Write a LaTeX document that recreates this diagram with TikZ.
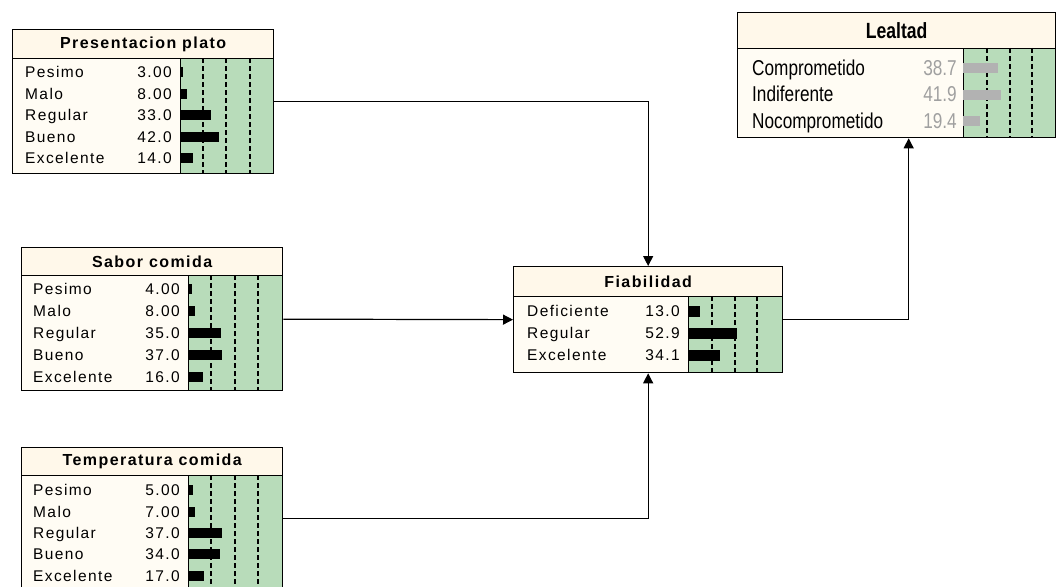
\documentclass[tikz,border=0pt]{standalone}
\usepackage{fontspec}
\setmainfont{Liberation Sans}
\newfontfamily\netfont[LetterSpace=9]{Liberation Sans}
\newfontfamily\narrowfont[FakeStretch=0.8]{Liberation Sans}
\usetikzlibrary{arrows.meta, positioning}

\definecolor{titlecream}{RGB}{255, 248, 234}
\definecolor{bodycream}{RGB}{255, 252, 244}
\definecolor{beliefgreen}{RGB}{184, 220, 186}
\definecolor{greybar}{RGB}{178, 178, 178}
\definecolor{greyval}{RGB}{160, 160, 160}

\tikzset{
  netbox/.style={draw, line width=1.3pt, fill=bodycream, inner sep=0pt, anchor=north west},
  titleband/.style={draw, line width=1.3pt, fill=titlecream, inner sep=0pt, anchor=north west,
    font=\netfont\bfseries\fontsize{16}{16}\selectfont},
  beliefarea/.style={draw, line width=1.3pt, fill=beliefgreen, inner sep=0pt, anchor=north west},
  statelabel/.style={anchor=west, inner sep=0pt, text height=11pt, text depth=0pt,
    font=\netfont\fontsize{15.5}{15.5}\selectfont},
  stateval/.style={anchor=east, inner sep=0pt, text height=11pt, text depth=0pt,
    font=\netfont\fontsize{15.5}{15.5}\selectfont},
  quarterline/.style={dash pattern=on 5pt off 3pt, line width=1.1pt},
  link/.style={line width=1.2pt, -{Triangle[length=10pt, width=10pt]}},
}

\begin{document}
\begin{tikzpicture}[x=1pt, y=-1pt]
  \useasboundingbox (0,0) rectangle (1056,586);

  % Presentacion plato
  \node[netbox, minimum width=261, minimum height=144] (pres) at (12,29) {};
  \node[titleband, minimum width=261, minimum height=29] (pres-title) at (pres.north west) {Presentacion plato};
  \node[beliefarea, minimum width=93, minimum height=115] (pres-belief) at (180,58) {};
  \foreach \dx in {23,46,70}
    \draw[quarterline] ([xshift=\dx]pres-belief.north west) -- ([xshift=\dx]pres-belief.south west);
  \foreach \lab/\val [count=\i] in {Pesimo/3.00, Malo/8.00, Regular/33.0, Bueno/42.0, Excelente/14.0} {
    \node[statelabel] (pres-s\i) at (25, 50.5+21.5*\i) {\lab};
    \node[stateval] (pres-v\i) at (172, 50.5+21.5*\i) {\val};
    \fill (180, 45.5+21.5*\i) rectangle ++(0.93*\val, 10);
  }

  % Sabor comida
  \node[netbox, minimum width=261, minimum height=143] (sabor) at (21,247) {};
  \node[titleband, minimum width=261, minimum height=28] (sabor-title) at (sabor.north west) {Sabor comida};
  \node[beliefarea, minimum width=94, minimum height=115] (sabor-belief) at (188,275) {};
  \foreach \dx in {23,47,70}
    \draw[quarterline] ([xshift=\dx]sabor-belief.north west) -- ([xshift=\dx]sabor-belief.south west);
  \foreach \lab/\val [count=\i] in {Pesimo/4.00, Malo/8.00, Regular/35.0, Bueno/37.0, Excelente/16.0} {
    \node[statelabel] (sabor-s\i) at (33, 267+22*\i) {\lab};
    \node[stateval] (sabor-v\i) at (180, 267+22*\i) {\val};
    \fill (188, 262+22*\i) rectangle ++(0.93*\val, 10);
  }

  % Temperatura comida
  \node[netbox, minimum width=261, minimum height=142] (temp) at (21,447) {};
  \node[titleband, minimum width=261, minimum height=28] (temp-title) at (temp.north west) {Temperatura comida};
  \node[beliefarea, minimum width=94, minimum height=114] (temp-belief) at (188,475) {};
  \foreach \dx in {23,47,70}
    \draw[quarterline] ([xshift=\dx]temp-belief.north west) -- ([xshift=\dx]temp-belief.south west);
  \foreach \lab/\val [count=\i] in {Pesimo/5.00, Malo/7.00, Regular/37.0, Bueno/34.0, Excelente/17.0} {
    \node[statelabel] (temp-s\i) at (33, 469+21.3*\i) {\lab};
    \node[stateval] (temp-v\i) at (180, 469+21.3*\i) {\val};
    \fill (188, 464+21.3*\i) rectangle ++(0.93*\val, 10);
  }

  % Fiabilidad
  \node[netbox, minimum width=269, minimum height=106] (fiab) at (513,266) {};
  \node[titleband, minimum width=269, minimum height=30] (fiab-title) at (fiab.north west) {Fiabilidad};
  \node[beliefarea, minimum width=94, minimum height=76] (fiab-belief) at (688,296) {};
  \foreach \dx in {24,47,69}
    \draw[quarterline] ([xshift=\dx]fiab-belief.north west) -- ([xshift=\dx]fiab-belief.south west);
  \foreach \lab/\val [count=\i] in {Deficiente/13.0, Regular/52.9, Excelente/34.1} {
    \node[statelabel] (fiab-s\i) at (527, 289+22*\i) {\lab};
    \node[stateval] (fiab-v\i) at (680, 289+22*\i) {\val};
    \fill (688, 284+22*\i) rectangle ++(0.93*\val, 11);
  }

  % Lealtad
  \node[netbox, minimum width=318, minimum height=125] (leal) at (737,12) {};
  \node[titleband, minimum width=318, minimum height=36, font=\narrowfont\bfseries\fontsize{22}{22}\selectfont] (leal-title) at (leal.north west) {Lealtad};
  \node[beliefarea, minimum width=92, minimum height=89] (leal-belief) at (963,48) {};
  \foreach \dx in {24,47,69}
    \draw[quarterline] ([xshift=\dx]leal-belief.north west) -- ([xshift=\dx]leal-belief.south west);
  \foreach \lab/\val [count=\i] in {Comprometido/38.7, Indiferente/41.9, Nocomprometido/19.4} {
    \node[statelabel, text height=14pt, font=\narrowfont\fontsize{21.5}{21.5}\selectfont] (leal-s\i) at (752, 41.5+26.5*\i) {\lab};
    \node[stateval, text height=14pt, text=greyval, font=\narrowfont\fontsize{21.5}{21.5}\selectfont] (leal-v\i) at (957, 41.5+26.5*\i) {\val};
    \fill[greybar] (963, 36.5+26.5*\i) rectangle ++(0.9*\val, 10);
  }
  \coordinate (leal-in) at ([xshift=12]leal.south);

  % Links
  \draw[link] (pres.east) -| (fiab.north);
  \draw[link] (sabor.east) -- (fiab.west);
  \draw[link] (temp.east) -| (fiab.south);
  \draw[link] (fiab.east) -| (leal-in);
\end{tikzpicture}
\end{document}
